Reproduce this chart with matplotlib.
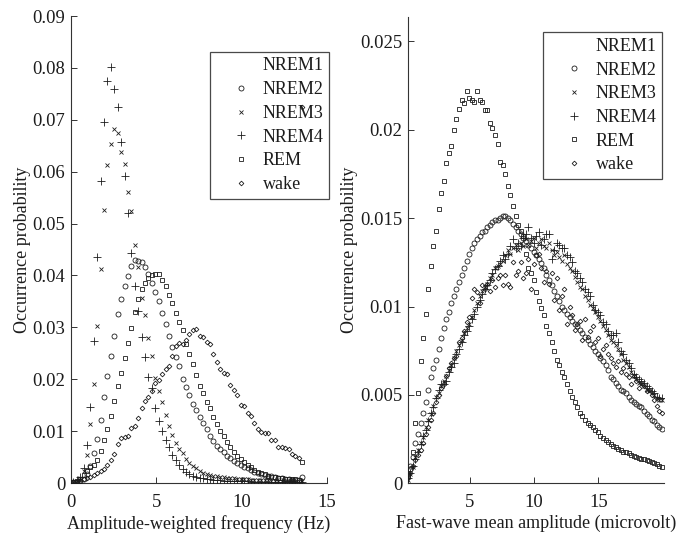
import numpy as np
import matplotlib
matplotlib.use("Agg")
import matplotlib.pyplot as plt
from matplotlib.lines import Line2D
from matplotlib.ticker import FuncFormatter

plt.rcParams['font.family'] = ['Liberation Serif', 'DejaVu Serif']
FS = 13.0
plt.rcParams['font.size'] = FS

INK = '#1c1c1c'

# ---- occurrence probabilities (x 1e-3) vs amplitude-weighted frequency ----
freq_bins = np.round(0.15 + 0.2 * np.arange(68), 2)   # Hz, bin centres

freq_nrem2 = [0.1, 0.2, 0.4, 0.8, 1.8, 3.3, 5.7, 8.5, 12.2, 16.5,
              20.6, 24.5, 28.4, 32.6, 35.5, 37.9, 39.9, 41.8, 43.0, 42.8,
              42.5, 41.7, 40.3, 38.6, 36.9, 35.0, 32.8, 30.6, 28.3, 26.2,
              24.3, 22.6, 20.1, 18.5, 17.0, 15.3, 14.0, 12.7, 11.5, 10.4,
              9.1, 8.0, 7.1, 6.5, 5.9, 5.3, 4.8, 4.3, 3.9, 3.5,
              3.1, 2.8, 2.5, 2.2, 2.0, 1.8, 1.6, 1.4, 1.3, 1.2,
              1.0, 0.9, 0.8, 0.7, 0.6, 0.55, 0.5, 1.2]
freq_nrem3 = [0.2, 0.4, 0.9, 2.3, 5.4, 11.3, 19.0, 30.3, 41.3, 52.6,
              61.2, 65.3, 68.2, 67.5, 63.8, 61.5, 56.1, 52.5, 45.9, 41.6,
              35.6, 32.3, 28.0, 24.5, 20.2, 17.7, 15.7, 13.1, 11.0, 9.3,
              7.8, 6.6, 5.8, 4.7, 3.9, 3.3, 2.8, 2.4, 2.0, 1.8,
              1.6, 1.4, 1.3, 1.2, 1.1, 1.0, 0.95, 0.9, 0.85, 0.8,
              0.75, 0.7, 0.65, 0.6, 0.58, 0.55, 0.52, 0.5, 0.48, 0.45,
              0.43, 0.4, 0.38, 0.36, 0.35, 0.33, 0.32, 0.3]
freq_nrem4 = [0.2, 0.5, 1.2, 2.8, 7.3, 14.7, 27.4, 43.5, 58.2, 69.6,
              77.5, 80.1, 76.0, 72.5, 65.8, 59.2, 52.1, 44.3, 38.0, 33.2,
              28.1, 24.3, 20.4, 18.3, 14.5, 12.0, 10.1, 8.2, 6.9, 5.4,
              4.4, 3.5, 2.7, 2.1, 1.7, 1.4, 1.2, 1.0, 0.9, 0.8,
              0.7, 0.6, 0.55, 0.5, 0.45, 0.42, 0.4, 0.38, 0.35, 0.33,
              0.3, 0.3, 0.28, 0.26, 0.25, 0.24, 0.22, 0.21, 0.2, 0.2,
              0.19, 0.18, 0.18, 0.17, 0.17, 0.16, 0.16, 0.15]
freq_rem = [0.1, 0.3, 0.8, 1.6, 2.4, 3.0, 3.5, 4.5, 6.2, 8.2,
            10.5, 13.0, 15.8, 18.6, 21.2, 24.0, 27.0, 29.8, 33.0, 35.5,
            37.3, 38.5, 39.6, 40.0, 40.3, 40.2, 39.1, 37.9, 36.2, 34.6,
            32.8, 31.1, 29.4, 26.7, 24.8, 22.9, 20.8, 18.7, 17.4, 15.7,
            14.5, 12.8, 11.3, 10.0, 9.0, 7.9, 7.0, 6.0, 5.2, 4.6,
            4.1, 3.5, 3.0, 2.6, 2.2, 1.9, 1.7, 1.4, 1.2, 1.1,
            1.0, 0.9, 0.85, 0.8, 0.75, 0.7, 0.65, 4.0]
freq_wake = [0.1, 0.2, 0.4, 0.7, 0.9, 1.2, 1.6, 2.0, 2.3, 2.7,
             3.4, 4.5, 5.5, 7.5, 8.6, 8.8, 9.0, 10.6, 11.0, 12.6,
             14.4, 15.8, 16.5, 17.7, 19.2, 19.8, 21.0, 22.0, 22.5, 24.5,
             26.4, 27.0, 26.8, 27.6, 28.7, 29.4, 29.6, 28.3, 28.1, 27.2,
             26.8, 24.8, 23.3, 22.0, 21.2, 21.0, 18.8, 18.0, 17.0, 15.0,
             14.8, 13.5, 13.0, 11.5, 10.4, 9.8, 9.7, 9.7, 8.3, 8.2,
             7.0, 6.9, 6.7, 6.5, 5.6, 5.2, 4.9, 72.5]

# ---- occurrence probabilities (x 1e-3) vs fast-wave mean amplitude ----
amp_bins = np.round(0.15 + 0.2 * np.arange(100), 2)   # microvolt, bin centres

amp_nrem2 = [0.5, 1.0, 1.5, 2.3, 2.8, 3.4, 4.0, 4.6, 5.3, 6.0,
             6.5, 7.0, 7.6, 8.2, 8.8, 9.3, 9.7, 10.2, 10.6, 11.0,
             11.4, 11.8, 12.2, 12.6, 13.0, 13.3, 13.6, 13.8, 14.0, 14.2,
             14.3, 14.5, 14.6, 14.8, 14.9, 14.9, 15.0, 15.1, 15.1, 15.0,
             14.9, 14.7, 14.5, 14.3, 14.1, 13.9, 13.7, 13.5, 13.3, 13.1,
             12.9, 12.7, 12.45, 12.2, 11.8, 11.5, 11.2, 10.9, 10.6, 10.3,
             10.0, 9.8, 9.6, 9.4, 9.2, 9.0, 8.9, 8.7, 8.5, 8.3,
             8.1, 7.9, 7.7, 7.5, 7.3, 7.1, 6.9, 6.7, 6.4, 6.0,
             5.9, 5.7, 5.5, 5.3, 5.2, 5.1, 4.9, 4.7, 4.6, 4.5,
             4.4, 4.3, 4.1, 3.9, 3.8, 3.6, 3.5, 3.3, 3.2, 3.1]
amp_nrem3 = [0.2, 0.5, 0.9, 1.5, 1.9, 2.3, 2.6, 3.2, 3.6, 3.9,
             4.4, 4.9, 5.1, 5.5, 5.8, 6.1, 6.4, 6.7, 7.1, 7.5,
             7.8, 8.1, 8.5, 8.8, 9.0, 9.4, 9.8, 10.2, 10.6, 10.9,
             11.1, 11.3, 11.6, 11.8, 12.2, 12.3, 12.4, 12.6, 12.9, 13.2,
             13.0, 13.3, 13.5, 13.2, 13.6, 13.4, 13.8, 13.5, 13.7, 13.9,
             13.3, 13.6, 13.8, 13.4, 13.3, 13.6, 13.2, 12.9, 13.1, 12.8,
             12.6, 12.9, 12.4, 12.2, 12.0, 11.7, 11.4, 11.1, 11.0, 10.6,
             10.4, 10.1, 9.9, 9.7, 9.4, 9.2, 8.9, 8.7, 8.4, 8.1,
             8.0, 7.8, 7.6, 7.3, 7.0, 6.8, 6.6, 6.3, 6.1, 5.9,
             5.7, 5.6, 5.5, 5.3, 5.2, 5.1, 5.0, 4.8, 4.7, 4.7]
amp_nrem4 = [0.3, 0.6, 1.0, 1.4, 1.8, 2.2, 2.7, 3.0, 3.5, 4.0,
             4.3, 4.8, 5.3, 5.6, 5.6, 5.8, 6.3, 6.6, 6.8, 7.3,
             7.6, 8.0, 8.4, 8.6, 8.9, 9.3, 9.6, 10.0, 10.4, 10.7,
             11.0, 11.2, 11.5, 11.9, 12.1, 12.3, 12.6, 12.9, 12.7, 13.0,
             13.4, 13.8, 13.3, 13.6, 13.4, 13.9, 14.1, 14.5, 13.9, 13.6,
             14.0, 14.2, 13.5, 13.8, 14.1, 14.1, 12.7, 13.2, 13.6, 13.5,
             13.3, 13.3, 12.9, 12.8, 12.5, 12.0, 11.9, 11.6, 11.4, 11.0,
             10.8, 10.6, 10.1, 9.8, 9.7, 9.5, 9.1, 9.0, 8.6, 8.4,
             8.4, 8.5, 8.0, 7.5, 7.3, 7.0, 6.8, 6.5, 6.2, 6.0,
             5.9, 5.8, 5.7, 5.5, 5.4, 5.2, 5.1, 4.9, 4.8, 4.8]
amp_rem = [0.4, 0.8, 1.8, 3.4, 5.1, 6.9, 8.2, 9.6, 11.0, 12.3,
           13.4, 14.3, 15.5, 16.4, 17.1, 18.1, 18.7, 19.1, 20.0, 20.6,
           21.2, 21.7, 21.5, 22.2, 21.8, 21.7, 21.6, 22.2, 21.7, 21.6,
           21.1, 21.1, 20.4, 20.1, 19.7, 19.2, 18.2, 18.0, 17.5, 16.8,
           16.3, 15.7, 15.1, 14.6, 14.3, 14.0, 13.0, 12.2, 11.9, 11.5,
           10.8, 10.3, 9.9, 9.5, 8.9, 8.5, 8.0, 7.5, 7.0, 6.7,
           6.3, 6.0, 5.6, 5.2, 4.9, 4.6, 4.3, 4.0, 3.8, 3.6,
           3.4, 3.3, 3.2, 3.0, 2.9, 2.7, 2.55, 2.45, 2.35, 2.2,
           2.1, 2.05, 1.95, 1.9, 1.8, 1.75, 1.7, 1.6, 1.55, 1.5,
           1.45, 1.4, 1.35, 1.3, 1.25, 1.2, 1.15, 1.1, 1.0, 0.95]
amp_wake = [0.3, 0.6, 1.0, 1.3, 1.6, 1.9, 2.3, 2.8, 3.2, 3.6,
            4.0, 4.6, 5.0, 5.4, 5.6, 6.1, 6.5, 6.8, 7.1, 7.2,
            8.0, 8.2, 8.6, 9.1, 9.4, 10.5, 11.0, 10.8, 10.2, 11.2,
            11.0, 11.3, 10.9, 11.5, 11.1, 11.6, 11.8, 11.2, 11.8, 11.3,
            11.1, 12.5, 11.8, 12.0, 12.5, 11.6, 11.9, 12.7, 11.0, 12.4,
            12.9, 13.0, 12.2, 11.4, 12.0, 11.3, 11.9, 10.4, 11.6, 9.8,
            10.6, 11.0, 9.0, 10.0, 9.5, 8.7, 9.0, 9.2, 8.1, 9.3,
            8.3, 8.6, 8.9, 8.0, 8.2, 7.2, 7.6, 7.8, 7.3, 7.1,
            6.8, 6.6, 6.9, 6.3, 6.5, 6.2, 6.0, 5.6, 6.1, 5.8,
            5.4, 5.7, 5.5, 5.2, 5.3, 5.0, 4.7, 4.4, 4.1, 4.0]

stages = ['NREM1', 'NREM2', 'NREM3', 'NREM4', 'REM', 'wake']
# marker styles per stage (NREM1 has no visible marker)
styles = {
    'NREM1': dict(marker='', ms=0),
    'NREM2': dict(marker='o', ms=3.6),
    'NREM3': dict(marker='x', ms=3.0),
    'NREM4': dict(marker='+', ms=5.4),
    'REM':   dict(marker='s', ms=3.4),
    'wake':  dict(marker='D', ms=2.4),
}

fig = plt.figure(figsize=(6.78, 5.34), dpi=100)
ax1 = fig.add_axes([0.1043, 0.0955, 0.378, 0.8745])
ax2 = fig.add_axes([0.6013, 0.0949, 0.378, 0.8738])


def draw(ax, x, series):
    for name in stages:
        st = styles[name]
        y = series.get(name)
        if y is None:
            continue
        ax.plot(x, np.array(y) * 1e-3, linestyle='none', marker=st['marker'],
                ms=st['ms'], mfc='none', mec=INK, mew=0.6, zorder=3)


def legend_handles():
    hs = []
    for name in stages:
        st = styles[name]
        hs.append(Line2D([], [], linestyle='none', marker=st['marker'] or None,
                         ms=st['ms'], mfc='none', mec=INK, mew=0.6, label=name))
    return hs


def style_axes(ax):
    for s in ('top', 'right'):
        ax.spines[s].set_visible(False)
    for s in ('left', 'bottom'):
        ax.spines[s].set_linewidth(0.8)
        ax.spines[s].set_color('#333333')
    ax.tick_params(direction='in', length=4, width=0.7, colors='#333333',
                   labelcolor=INK, labelsize=FS + 0.4)
    ax.tick_params(axis='y', pad=4)
    ax.tick_params(axis='x', pad=8)
    ax.yaxis.set_major_formatter(FuncFormatter(lambda v, p: '%g' % round(v, 4)))
    ax.xaxis.set_major_formatter(FuncFormatter(lambda v, p: '%g' % round(v, 4)))


draw(ax1, freq_bins, {'NREM2': freq_nrem2, 'NREM3': freq_nrem3,
                      'NREM4': freq_nrem4, 'REM': freq_rem, 'wake': freq_wake})
ax1.set_xlim(0, 15)
ax1.set_ylim(0, 0.09)
ax1.set_xticks([0, 5, 10, 15])
ax1.set_yticks(np.arange(0, 0.0901, 0.01))
style_axes(ax1)
ax1.set_xlabel('Amplitude-weighted frequency (Hz)', color=INK, labelpad=2.5)
ax1.set_ylabel('Occurrence probability', color=INK, labelpad=1)

draw(ax2, amp_bins, {'NREM2': amp_nrem2, 'NREM3': amp_nrem3,
                     'NREM4': amp_nrem4, 'REM': amp_rem, 'wake': amp_wake})
ax2.set_xlim(0.15, 20.1)
ax2.set_ylim(0, 0.0264)
ax2.set_xticks([5, 10, 15])
ax2.set_yticks([0, 0.005, 0.01, 0.015, 0.02, 0.025])
style_axes(ax2)
ax2.set_xlabel('Fast-wave mean amplitude (microvolt)', color=INK, labelpad=2.5)
ax2.set_ylabel('Occurrence probability', color=INK, labelpad=1)

for ax, anchor in ((ax1, (1.009, 0.9236)), (ax2, (0.9934, 0.9666))):
    leg = ax.legend(handles=legend_handles(), loc='upper right',
                    bbox_to_anchor=anchor, borderaxespad=0, fancybox=False,
                    frameon=True, edgecolor=INK, facecolor='none',
                    fontsize=FS, handlelength=2.8, handletextpad=-0.2,
                    labelspacing=0.37, borderpad=0.32, markerfirst=True)
    leg.get_frame().set_linewidth(0.9)
    leg.set_zorder(1)
    for t in leg.get_texts():
        t.set_color(INK)

fig.savefig('out.png', dpi=100)
